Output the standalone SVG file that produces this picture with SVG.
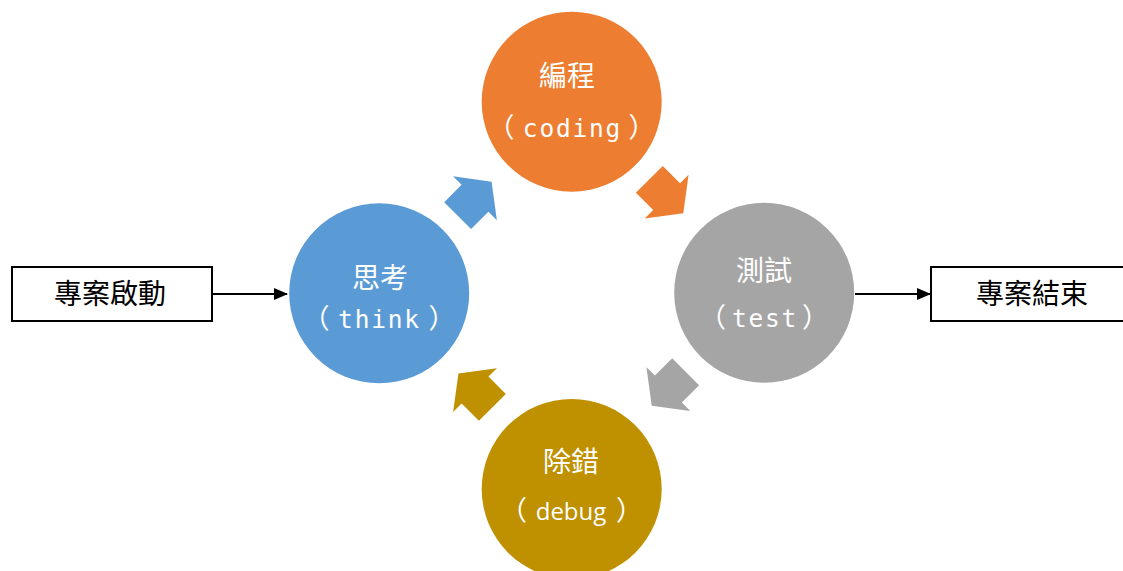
<svg xmlns="http://www.w3.org/2000/svg" width="1123" height="571" viewBox="0 0 1123 571">
  <style>
    .cjk { font-family: "Noto Sans CJK TC", "Noto Sans CJK SC", sans-serif; font-size: 28px; fill: #FFFFFF; text-anchor: middle; }
    .box { fill: #FFFFFF; stroke: #000000; stroke-width: 2; }
    .boxtxt { font-family: "Noto Sans CJK TC", "Noto Sans CJK SC", sans-serif; font-size: 28px; fill: #000000; text-anchor: middle; }
    .par { font-family: "Noto Sans CJK TC", "Noto Sans CJK SC", sans-serif; font-size: 27px; fill: #FFFFFF; text-anchor: middle; }
    .mono { font-family: "DejaVu Sans Mono", monospace; font-size: 24.5px; letter-spacing: 1.8px; }
    .prop { font-family: "Open Sans", sans-serif; font-size: 24px; }
    .conn { stroke: #000000; stroke-width: 2; fill: none; marker-end: url(#ah); }
  </style>
  <defs>
    <marker id="ah" viewBox="0 0 14 12" refX="13" refY="6" markerWidth="14" markerHeight="12" markerUnits="userSpaceOnUse" orient="auto">
      <path d="M0,0 L14,6 L0,12 Z" fill="#000000"/>
    </marker>
    <polygon id="blk" points="-24,-19 0.5,-19 0.5,-31 24,0 0.5,31 0.5,19 -24,19"/>
  </defs>
  <rect width="1123" height="571" fill="#FFFFFF"/>

  <g id="connectors">
    <line class="conn" x1="213" y1="294" x2="287" y2="294"/>
    <line class="conn" x1="855" y1="294" x2="930" y2="294"/>
    <use href="#blk" fill="#5B9BD5" transform="translate(474.6,198.6) rotate(-45)"/>
    <use href="#blk" fill="#ED7D31" transform="translate(666.3,196.3) rotate(45)"/>
    <use href="#blk" fill="#A5A5A5" transform="translate(668.7,388.7) rotate(135)"/>
    <use href="#blk" fill="#BF9000" transform="translate(475.4,390.4) rotate(-135)"/>
  </g>

  <g id="start">
    <rect class="box" x="12" y="267" width="200" height="54"/>
    <text class="boxtxt" x="110" y="304">專案啟動</text>
  </g>

  <g id="end">
    <rect class="box" x="931" y="267" width="200" height="54"/>
    <text class="boxtxt" x="1032" y="304">專案結束</text>
  </g>

  <g id="think">
    <circle cx="379.2" cy="293.3" r="90" fill="#5B9BD5"/>
    <text class="cjk" x="380" y="288">思考</text>
    <text class="par" y="327.5"><tspan x="316">（</tspan><tspan class="mono" x="379.5">think</tspan><tspan x="442">）</tspan></text>
  </g>

  <g id="coding">
    <circle cx="571.7" cy="101.7" r="90" fill="#ED7D31"/>
    <text class="cjk" x="567" y="86">編程</text>
    <text class="par" y="137"><tspan x="501">（</tspan><tspan class="mono" x="572.5">coding</tspan><tspan x="642">）</tspan></text>
  </g>

  <g id="test">
    <circle cx="764.2" cy="292.8" r="90" fill="#A5A5A5"/>
    <text class="cjk" x="764" y="280.5">測試</text>
    <text class="par" y="327"><tspan x="712.5">（</tspan><tspan class="mono" x="765">test</tspan><tspan x="815.5">）</tspan></text>
  </g>

  <g id="debug">
    <circle cx="571.7" cy="489" r="90" fill="#BF9000"/>
    <text class="cjk" x="571" y="471.5">除錯</text>
    <text class="par" y="520"><tspan x="513.5">（</tspan><tspan class="prop" x="571">debug</tspan><tspan x="629.5">）</tspan></text>
  </g>
</svg>
